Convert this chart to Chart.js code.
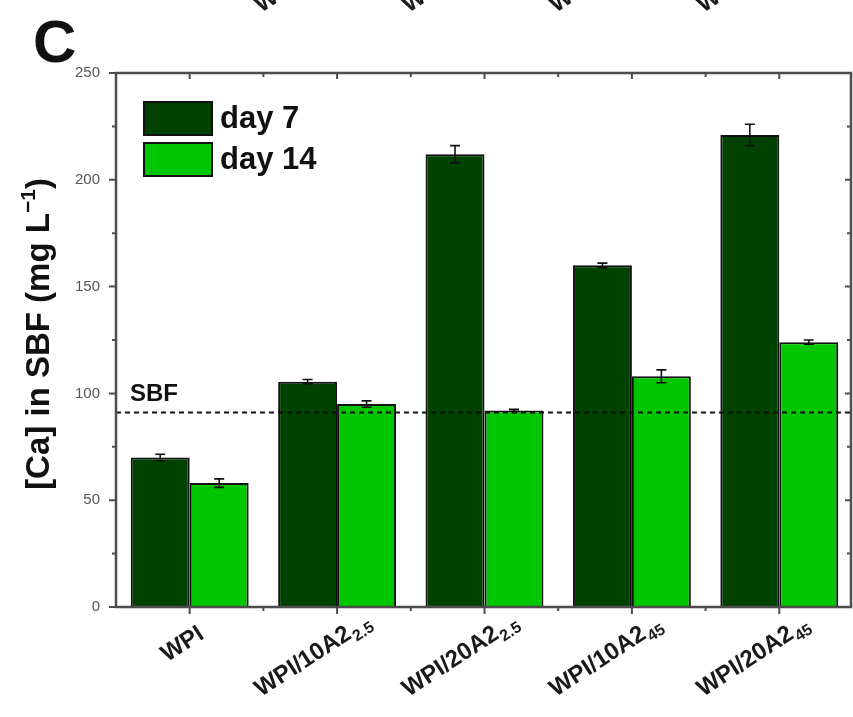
<!DOCTYPE html>
<html>
<head>
<meta charset="utf-8">
<script src="https://cdn.jsdelivr.net/npm/chart.js@4.4.1/dist/chart.umd.min.js"></script>
<style>
  html, body { margin: 0; padding: 0; background: #ffffff; }
  canvas { display: block; }
</style>
</head>
<body>
<canvas id="chart" width="853" height="717"></canvas>
<script>
// Calcium concentration in simulated body fluid after 7 and 14 days
const categories = ['WPI', 'WPI/10A2_2.5', 'WPI/20A2_2.5', 'WPI/10A2_45', 'WPI/20A2_45'];
const day7 = [70, 105.5, 212, 160, 221];
const day7Err = [1.5, 1, 4, 1, 5];
const day14 = [58, 95, 92, 108, 124];
const day14Err = [2, 1.5, 0.5, 3, 1];
const sbfLevel = 91;                 // Ca level of fresh SBF
const yTickValues = [0, 50, 100, 150, 200, 250];
const seriesNames = ['day 7', 'day 14'];

const FONT = '"Liberation Sans", Arial, sans-serif';
const DARK = '#004200';
const LIGHT = '#00c600';
const AXIS = '#4d4d4d';

// error bars from the per-series error arrays
const errorBars = {
  id: 'errorBars',
  afterDatasetsDraw(chart) {
    const { ctx } = chart;
    const errs = [day7Err, day14Err];
    ctx.save();
    ctx.strokeStyle = '#111';
    ctx.lineWidth = 1.6;
    chart.data.datasets.forEach((ds, di) => {
      const meta = chart.getDatasetMeta(di);
      meta.data.forEach((bar, i) => {
        const v = ds.data[i], e = errs[di][i];
        const y = chart.scales.y;
        const yTop = y.getPixelForValue(v + e);
        const yBot = y.getPixelForValue(v - e);
        const cx = bar.x, cap = 5;
        ctx.beginPath();
        ctx.moveTo(cx, yTop); ctx.lineTo(cx, yBot);
        ctx.moveTo(cx - cap, yTop); ctx.lineTo(cx + cap, yTop);
        ctx.moveTo(cx - cap, yBot); ctx.lineTo(cx + cap, yBot);
        ctx.stroke();
      });
    });
    ctx.restore();
  }
};

// dashed reference line for SBF
const sbfLine = {
  id: 'sbfLine',
  afterDatasetsDraw(chart) {
    const { ctx, chartArea: a } = chart;
    const yy = chart.scales.y.getPixelForValue(sbfLevel);
    ctx.save();
    ctx.strokeStyle = '#111';
    ctx.lineWidth = 2;
    ctx.setLineDash([5, 4]);
    ctx.beginPath();
    ctx.moveTo(a.left, yy); ctx.lineTo(a.right, yy);
    ctx.stroke();
    ctx.setLineDash([]);
    ctx.fillStyle = '#111';
    ctx.font = 'bold 24px ' + FONT;
    ctx.textBaseline = 'alphabetic';
    ctx.fillText('SBF', a.left + 14, yy - 12);
    ctx.restore();
  }
};

// boxed frame with ticks on all four sides
const frame = {
  id: 'frame',
  afterDraw(chart) {
    const { ctx, chartArea: a, scales: { x, y } } = chart;
    const right = a.right - 2;
    ctx.save();
    ctx.strokeStyle = AXIS;
    ctx.lineWidth = 2.5;
    ctx.strokeRect(a.left, a.top, right - a.left, a.bottom - a.top);
    ctx.lineWidth = 2;
    ctx.beginPath();
    // y ticks: major every 50, minor every 25
    for (let v = 0; v <= 250; v += 25) {
      const py = y.getPixelForValue(v);
      const major = v % 50 === 0;
      const out = major ? 7 : 4, inn = major ? 6 : 4;
      ctx.moveTo(a.left - out, py); ctx.lineTo(a.left, py);
      ctx.moveTo(right, py); ctx.lineTo(right - inn, py);
    }
    // x ticks: major at category centres, minor between groups
    const n = categories.length;
    for (let i = 0; i < n; i++) {
      const px = x.getPixelForValue(i);
      ctx.moveTo(px, a.bottom); ctx.lineTo(px, a.bottom + 7);
      ctx.moveTo(px, a.top); ctx.lineTo(px, a.top + 6);
      if (i > 0) {
        const bx = (px + x.getPixelForValue(i - 1)) / 2;
        ctx.moveTo(bx, a.bottom); ctx.lineTo(bx, a.bottom + 4);
        ctx.moveTo(bx, a.top); ctx.lineTo(bx, a.top + 4);
      }
    }
    ctx.stroke();
    ctx.restore();
  }
};

// rotated category labels with subscripts
function drawCategoryLabels(chart, offsetY) {
  const { ctx, chartArea: a, scales: { x } } = chart;
  categories.forEach((lab, i) => {
    const [main, sub] = lab.split('_');
    const px = x.getPixelForValue(i);
    ctx.save();
    ctx.translate(px + 12, a.bottom + 25 + offsetY);
    ctx.rotate(-33 * Math.PI / 180);
    ctx.fillStyle = '#1a1a1a';
    ctx.textBaseline = 'middle';
    ctx.textAlign = 'right';
    ctx.font = 'bold 24px ' + FONT;
    ctx.fillText(main, 0, 0);
    if (sub) {
      ctx.textAlign = 'left';
      ctx.font = 'bold 16px ' + FONT;
      ctx.fillText(sub, 1, 8);
    }
    ctx.restore();
  });
}

const decorations = {
  id: 'decorations',
  afterDraw(chart) {
    const { ctx, chartArea: a } = chart;
    drawCategoryLabels(chart, 0);
    // label row of the panel above, cut by the page edge
    drawCategoryLabels(chart, -684);

    ctx.save();
    // panel letter
    ctx.fillStyle = '#111';
    ctx.font = 'bold 60px ' + FONT;
    ctx.textBaseline = 'alphabetic';
    ctx.textAlign = 'left';
    ctx.fillText('C', 33, 62);

    // y-axis title with superscript
    const big = 'bold 33px ' + FONT, small = 'bold 21px ' + FONT;
    const p1 = '[Ca] in SBF (mg L', p2 = '\u22121', p3 = ')';
    ctx.font = big; const w1 = ctx.measureText(p1).width, w3 = ctx.measureText(p3).width;
    ctx.font = small; const w2 = ctx.measureText(p2).width;
    const total = w1 + w2 + w3;
    ctx.translate(40, 334);
    ctx.rotate(-Math.PI / 2);
    ctx.textBaseline = 'middle';
    let cx = -total / 2;
    ctx.font = big; ctx.fillText(p1, cx, 0); cx += w1;
    ctx.font = small; ctx.fillText(p2, cx, -11); cx += w2;
    ctx.font = big; ctx.fillText(p3, cx, 0);
    ctx.restore();

    // legend inside the plot
    ctx.save();
    const colors = [DARK, LIGHT];
    seriesNames.forEach((name, i) => {
      const bx = 144, by = 102 + i * 41, bw = 68, bh = 33;
      ctx.fillStyle = colors[i];
      ctx.fillRect(bx, by, bw, bh);
      ctx.strokeStyle = '#111';
      ctx.lineWidth = 2;
      ctx.strokeRect(bx, by, bw, bh);
      ctx.fillStyle = '#111';
      ctx.font = 'bold 31px ' + FONT;
      ctx.textBaseline = 'middle';
      ctx.fillText(name, bx + bw + 8, by + bh / 2 + 1);
    });
    ctx.restore();
  }
};

new Chart(document.getElementById('chart'), {
  type: 'bar',
  data: {
    labels: categories,
    datasets: [
      { label: seriesNames[0], data: day7, backgroundColor: DARK, borderColor: '#111', borderWidth: 2 },
      { label: seriesNames[1], data: day14, backgroundColor: LIGHT, borderColor: '#111', borderWidth: 2 }
    ]
  },
  options: {
    responsive: false,
    devicePixelRatio: 1,
    animation: false,
    layout: { padding: { top: 73, right: 0, left: 0, bottom: 0 } },
    datasets: { bar: { categoryPercentage: 0.80, barPercentage: 1.0 } },
    plugins: { legend: { display: false }, tooltip: { enabled: false } },
    scales: {
      x: {
        offset: true,
        grid: { display: false, drawTicks: false },
        border: { display: false },
        ticks: { display: false },
        afterFit(s) { s.height = 110; }
      },
      y: {
        min: 0, max: 250,
        grid: { display: false, drawTicks: false },
        border: { display: false },
        afterBuildTicks(s) { s.ticks = yTickValues.map(v => ({ value: v })); },
        ticks: {
          padding: 16,
          color: '#555',
          font: { family: FONT, size: 15 }
        },
        afterFit(s) { s.width = 116; }
      }
    }
  },
  plugins: [errorBars, sbfLine, frame, decorations]
});
</script>
</body>
</html>
